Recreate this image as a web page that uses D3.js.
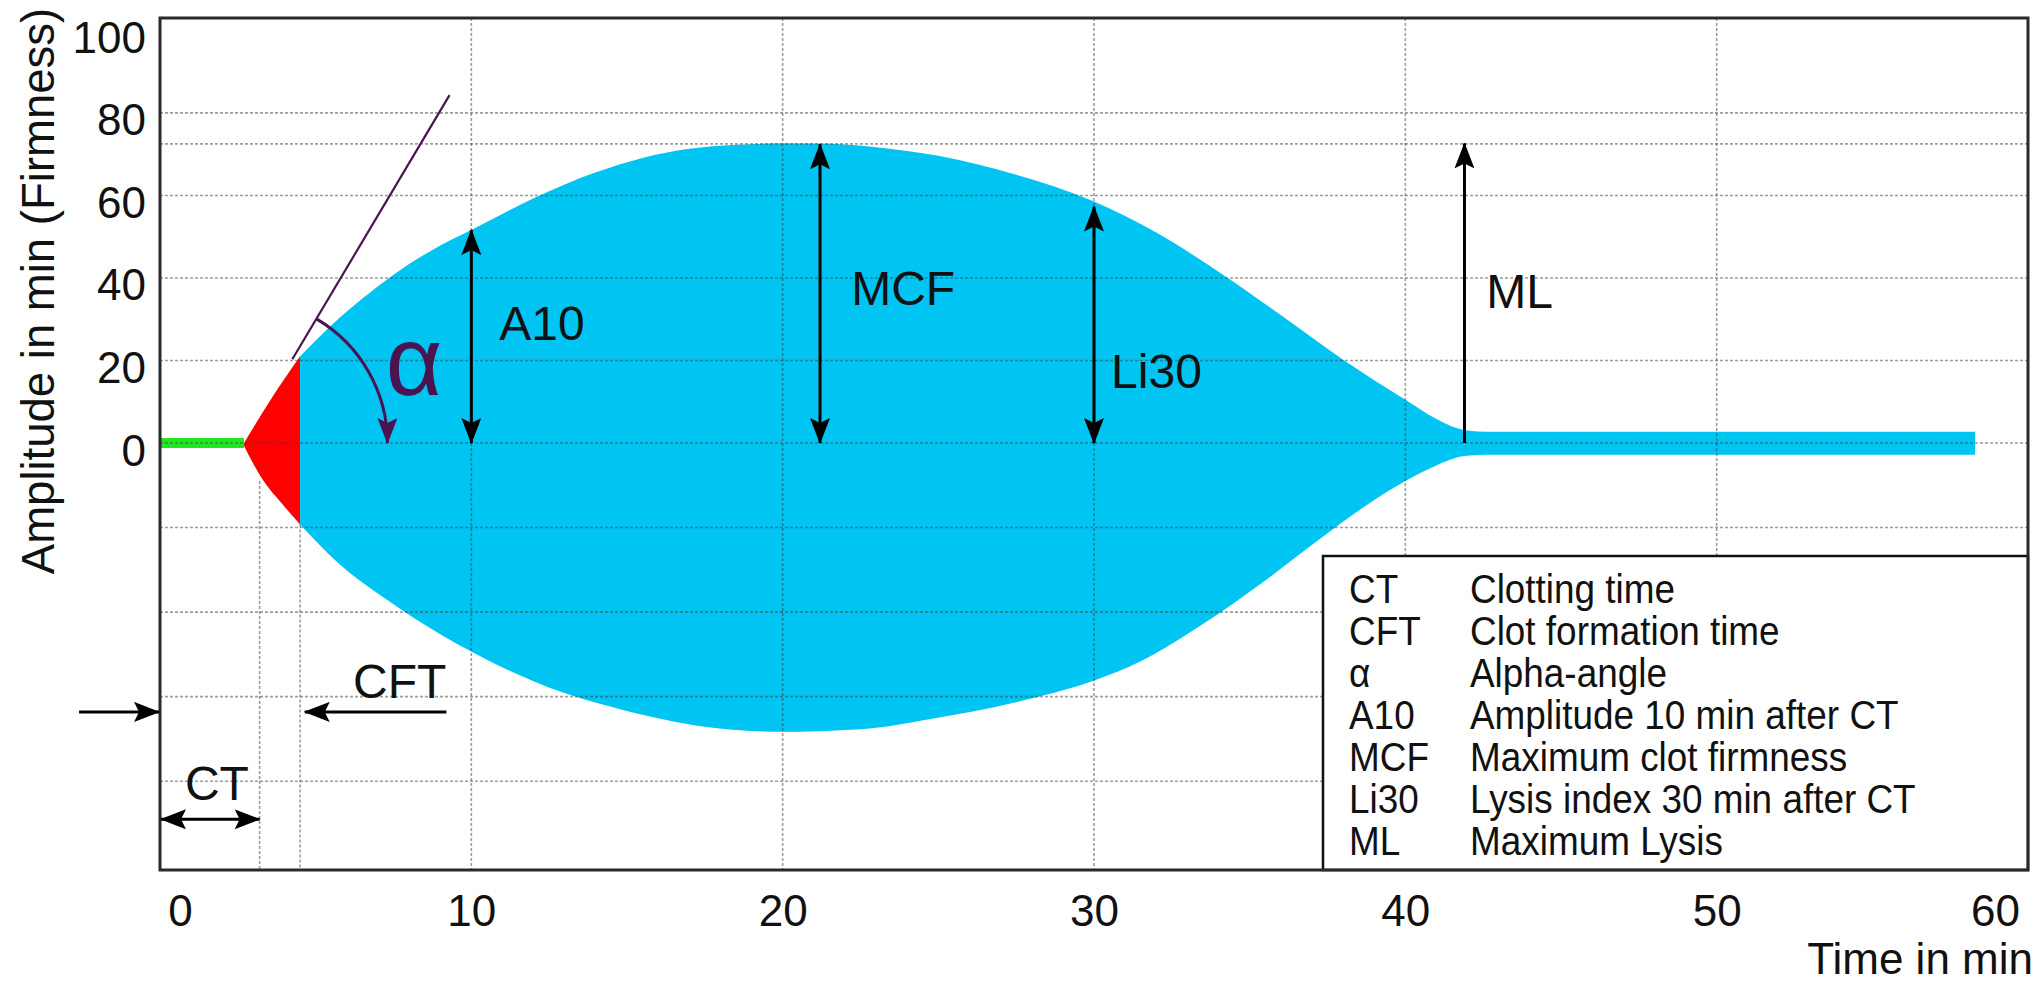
<!DOCTYPE html>
<html><head><meta charset="utf-8">
<script src="https://cdn.jsdelivr.net/npm/d3@7"></script>
<style>
html,body{margin:0;padding:0;background:#fff;}
svg{display:block;font-family:"Liberation Sans",Arial,sans-serif;}
</style>
</head><body>
<svg id="chart" width="2039" height="984"></svg>
<script>
// ---------- data ----------
const xTicks = [0, 10, 20, 30, 40, 50, 60];
const yTicks = [0, 20, 40, 60, 80, 100];
const yGridValues = [-80, -60, -40, -20, 0, 20, 40, 60, 72.5, 80];
const xGridValues = [10, 20, 30, 40, 50];
const ctLineT = 3.2, cftLineT = 4.5;
const baselineT = [0, 2.7];           // green flat line before clotting
const cftEnd = 4.5;                   // red part ends here
const upperT = [2.7, 3.6, 4.5, 5.5, 6.5, 7.5, 8.75, 10, 12, 14, 15.5, 17, 18.5, 20, 21.5, 23, 25, 27.5, 30, 32, 34, 36, 38, 40, 41, 41.5, 42, 42.6, 58.3];
const upperV = [0, 11, 21, 28.5, 35, 40.8, 46.8, 51.6, 59.3, 65.6, 69.1, 71.3, 72.3, 72.6, 72.5, 71.7, 69.6, 65, 58.5, 51, 41.5, 31, 20.2, 10.5, 5.8, 4.0, 3.0, 2.7, 2.7];
const lowerT = [2.65, 3.3, 3.9, 4.5, 5.74, 7.17, 8.18, 10.04, 12.9, 14.34, 17.2, 19.93, 22.5, 24.8, 27.5, 30, 31.5, 33.5, 35.5, 37.2, 38.8, 40, 41, 41.9, 42.6, 58.3];
const lowerV = [0, -8.7, -14.2, -19.3, -28.5, -36.5, -41.5, -49.5, -58.9, -62.1, -66.8, -68.3, -67.7, -65.2, -61.3, -56.2, -51.6, -42.8, -32.5, -23, -14.5, -9, -5.3, -3.1, -2.8, -2.8];
const tipT = 2.68;                    // alpha arc centre (clot start)
const tangentT = [4.25, 9.3];
const tangentV = [20.3, 84.3];
const markerLabels = ["A10", "MCF", "Li30", "ML"];
const markerTimes = [10, 21.2, 30, 41.9];
const markerTops = [51.6, 72.4, 57.3, 72.6];
const markerDouble = [true, true, true, false];
const markerLabelT = [10.9, 22.2, 30.55, 42.6];
const markerLabelV = [25, 33.4, 13.3, 32.7];
const ctArrowT = [0, 3.2], ctArrowV = -89;
const ctLabelT = 0.8, ctLabelV = -84.5;
const leftArrowT = [-2.6, 0], cftArrowT = [9.2, 4.65], cftArrowV = -63.6;
const cftLabelT = 6.2, cftLabelV = -60.3;
const alphaLabelT = 7.25, alphaLabelV = 11.6;
const legendCodes = ["CT", "CFT", "α", "A10", "MCF", "Li30", "ML"];
const legendTexts = ["Clotting time", "Clot formation time", "Alpha-angle", "Amplitude 10 min after CT", "Maximum clot firmness", "Lysis index 30 min after CT", "Maximum Lysis"];

// ---------- layout ----------
const svg = d3.select("#chart");
const x = d3.scaleLinear().domain([0, 60]).range([160, 2028]);
const y = d3.scaleLinear().domain([-101, 0, 103]).range([870, 443, 18]);
const BLUE = "#00c4f2", RED = "#ff0000", GREEN = "#22e622", PURPLE = "#4a1450";

svg.append("rect").attr("width", 2039).attr("height", 984).attr("fill", "#fff");

const defs = svg.append("defs");
function marker(id, color) {
  defs.append("marker").attr("id", id).attr("viewBox", "0 0 26 20")
    .attr("refX", 25).attr("refY", 10).attr("markerWidth", 26).attr("markerHeight", 20)
    .attr("markerUnits", "userSpaceOnUse").attr("orient", "auto-start-reverse")
    .append("path").attr("d", "M0,0L26,10L0,20L5,10Z").attr("fill", color);
}
marker("ah", "#000");
marker("ahp", PURPLE);

// ---------- fills ----------
const upper = upperT.map((t, i) => ({t, v: upperV[i]}));
const lower = lowerT.map((t, i) => ({t, v: lowerV[i]}));
const upArea = d3.area().x(d => x(d.t)).y0(y(0)).y1(d => y(d.v)).curve(d3.curveMonotoneX);
const loArea = d3.area().x(d => x(d.t)).y0(d => y(d.v)).y1(y(0)).curve(d3.curveMonotoneX);

svg.append("path").attr("d", upArea(upper.filter(d => d.t <= cftEnd))).attr("fill", RED);
svg.append("path").attr("d", loArea(lower.filter(d => d.t <= cftEnd))).attr("fill", RED);
svg.append("path").attr("d", upArea(upper.filter(d => d.t >= cftEnd))).attr("fill", BLUE);
svg.append("path").attr("d", loArea(lower.filter(d => d.t >= cftEnd))).attr("fill", BLUE);

svg.append("line").attr("x1", x(baselineT[0])).attr("x2", x(baselineT[1]))
  .attr("y1", y(0)).attr("y2", y(0)).attr("stroke", GREEN).attr("stroke-width", 10);

// ---------- grid ----------
const grid = svg.append("g").attr("stroke", "rgba(60,60,60,0.5)").attr("stroke-width", 1.6).attr("stroke-dasharray", "3,2");
grid.selectAll(".gy").data(yGridValues).join("line")
  .attr("x1", x(0)).attr("x2", x(60)).attr("y1", d => y(d)).attr("y2", d => y(d));
grid.selectAll(".gx").data(xGridValues).join("line")
  .attr("x1", d => x(d)).attr("x2", d => x(d)).attr("y1", y(103)).attr("y2", y(-101));
grid.append("line").attr("x1", x(ctLineT)).attr("x2", x(ctLineT)).attr("y1", y(-9)).attr("y2", y(-101));
grid.append("line").attr("x1", x(cftLineT)).attr("x2", x(cftLineT)).attr("y1", y(-19.3)).attr("y2", y(-101));

// ---------- legend ----------
const lg = svg.append("g");
lg.append("rect").attr("x", 1323).attr("y", 556).attr("width", x(60) - 1323).attr("height", y(-101) - 556)
  .attr("fill", "#fff").attr("stroke", "#111").attr("stroke-width", 2.5);
legendCodes.forEach((c, i) => {
  lg.append("text").attr("transform", `translate(1349,${603 + i * 42}) scale(0.9,1)`)
    .attr("font-size", 41).attr("fill", "#111").text(c);
  lg.append("text").attr("transform", `translate(1470,${603 + i * 42}) scale(0.9,1)`)
    .attr("font-size", 41).attr("fill", "#111").text(legendTexts[i]);
});

// ---------- plot border ----------
svg.append("rect").attr("x", x(0)).attr("y", y(103)).attr("width", x(60) - x(0)).attr("height", y(-101) - y(103))
  .attr("fill", "none").attr("stroke", "#2a2a2a").attr("stroke-width", 3);

// ---------- annotations ----------
// tangent line (alpha)
svg.append("line").attr("x1", x(tangentT[0])).attr("y1", y(tangentV[0]))
  .attr("x2", x(tangentT[1])).attr("y2", y(tangentV[1])).attr("stroke", PURPLE).attr("stroke-width", 2.2);
// alpha arc
{
  const cx = x(tipT), cy = y(0), r = 144;
  const a0 = Math.atan2(y(tangentV[1]) - cy, x(tangentT[1]) - cx);
  const p = d3.path();
  p.moveTo(cx + r * Math.cos(a0), cy + r * Math.sin(a0));
  p.arc(cx, cy, r, a0, 0, false);
  svg.append("path").attr("d", p.toString()).attr("fill", "none").attr("stroke", PURPLE)
    .attr("stroke-width", 3).attr("marker-end", "url(#ahp)");
}
svg.append("text").attr("x", x(alphaLabelT)).attr("y", y(alphaLabelV)).attr("font-size", 98)
  .attr("fill", PURPLE).text("α");

// vertical measurement arrows
markerLabels.forEach((lab, i) => {
  const l = svg.append("line").attr("x1", x(markerTimes[i])).attr("x2", x(markerTimes[i]))
    .attr("y1", y(0)).attr("y2", y(markerTops[i])).attr("stroke", "#000").attr("stroke-width", 3)
    .attr("marker-end", "url(#ah)");
  if (markerDouble[i]) l.attr("marker-start", "url(#ah)");
  svg.append("text").attr("x", x(markerLabelT[i])).attr("y", y(markerLabelV[i])).attr("font-size", 48)
    .attr("fill", "#111").text(lab);
});

// CT arrow
svg.append("line").attr("x1", x(ctArrowT[0]) + 1).attr("x2", x(ctArrowT[1])).attr("y1", y(ctArrowV)).attr("y2", y(ctArrowV))
  .attr("stroke", "#000").attr("stroke-width", 3).attr("marker-start", "url(#ah)").attr("marker-end", "url(#ah)");
svg.append("text").attr("x", x(ctLabelT)).attr("y", y(ctLabelV)).attr("font-size", 48).attr("fill", "#111").text("CT");
// CFT arrows
svg.append("line").attr("x1", x(leftArrowT[0])).attr("x2", x(leftArrowT[1]) - 1).attr("y1", y(cftArrowV)).attr("y2", y(cftArrowV))
  .attr("stroke", "#000").attr("stroke-width", 3).attr("marker-end", "url(#ah)");
svg.append("line").attr("x1", x(cftArrowT[0])).attr("x2", x(cftArrowT[1])).attr("y1", y(cftArrowV)).attr("y2", y(cftArrowV))
  .attr("stroke", "#000").attr("stroke-width", 3).attr("marker-end", "url(#ah)");
svg.append("text").attr("x", x(cftLabelT)).attr("y", y(cftLabelV)).attr("font-size", 48).attr("fill", "#111").text("CFT");

// ---------- axes ----------
const yAxis = svg.append("g").attr("transform", `translate(${x(0)},0)`)
  .call(d3.axisLeft(y).tickValues(yTicks).tickSize(0).tickPadding(14));
yAxis.select(".domain").remove();
yAxis.selectAll("text").attr("font-size", 44).attr("font-family", "Liberation Sans, Arial, sans-serif")
  .attr("fill", "#111").attr("dy", "0.5em");

const xAxis = svg.append("g").attr("transform", `translate(0,${y(-101)})`)
  .call(d3.axisBottom(x).tickValues(xTicks).tickSize(0).tickPadding(25));
xAxis.select(".domain").remove();
xAxis.selectAll("text").attr("font-size", 44).attr("font-family", "Liberation Sans, Arial, sans-serif")
  .attr("fill", "#111")
  .attr("dx", d => d === 0 ? 20 : (d === 60 ? -33 : 0));

svg.append("text").attr("transform", `translate(54,291) rotate(-90)`).attr("text-anchor", "middle")
  .attr("font-size", 45.5).attr("fill", "#111").text("Amplitude in min (Firmness)");
svg.append("text").attr("x", 2033).attr("y", 974).attr("text-anchor", "end")
  .attr("font-size", 44).attr("fill", "#111").text("Time in min");
</script>
</body></html>
